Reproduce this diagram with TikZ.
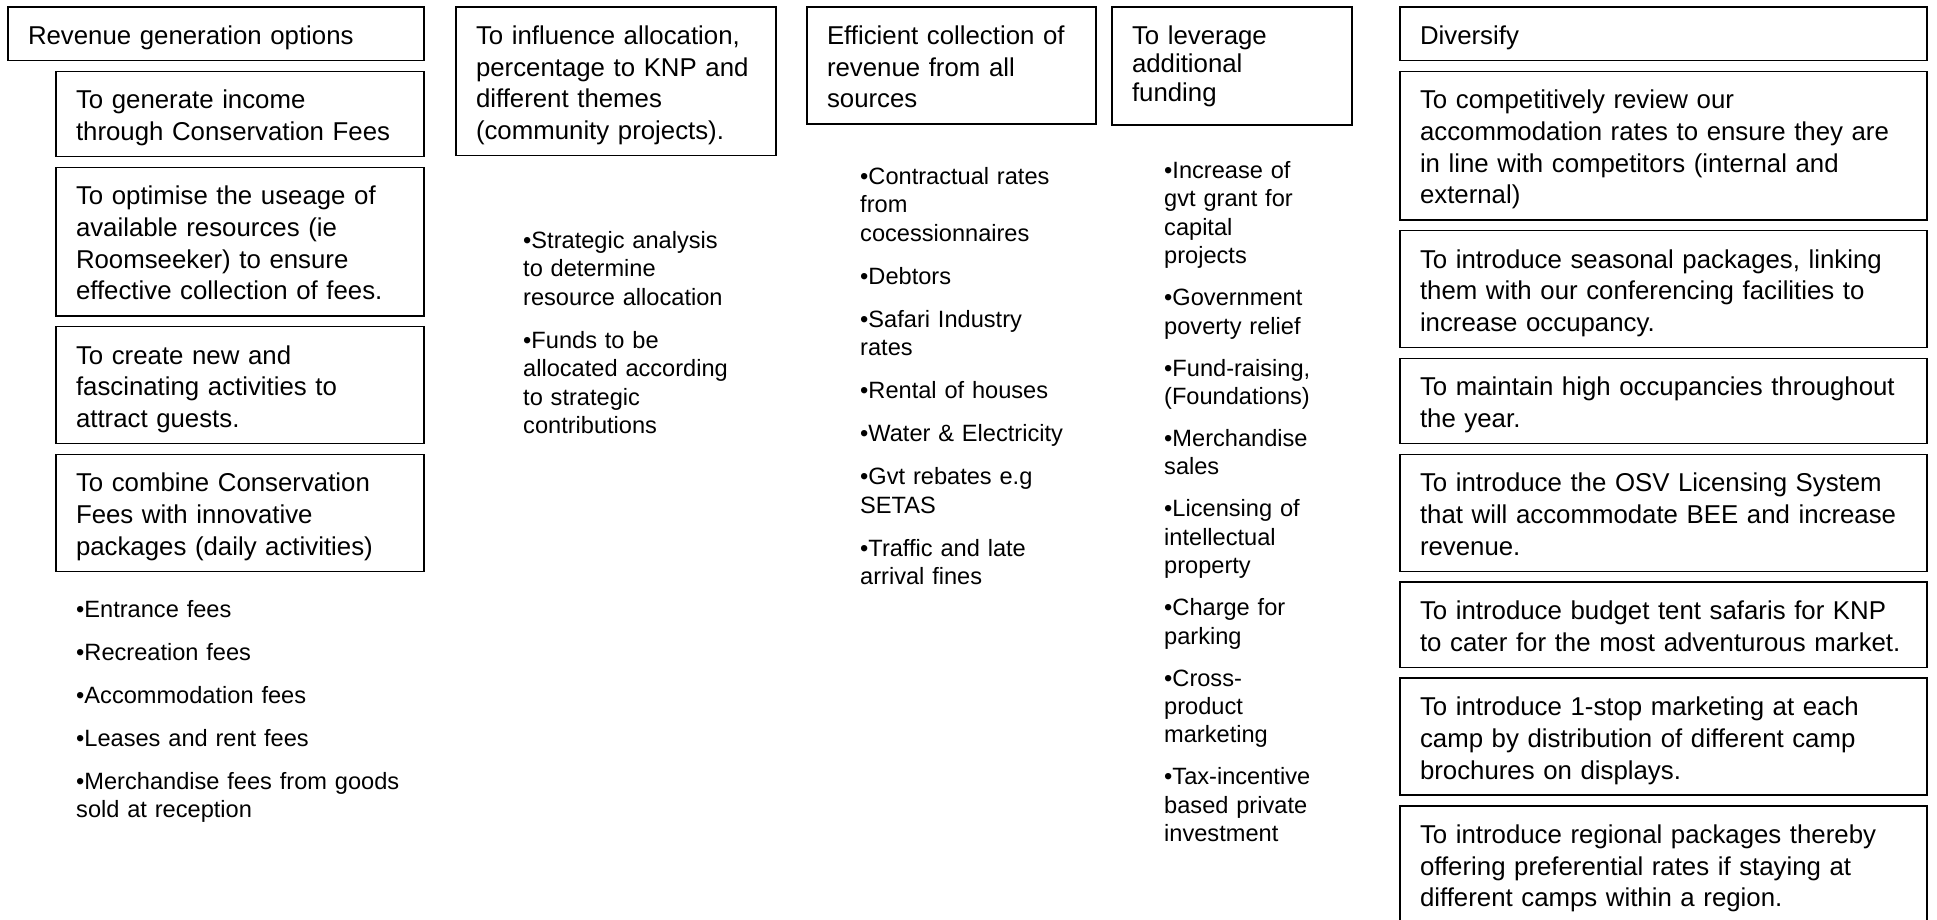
\documentclass[tikz,border=0pt]{standalone}
\usepackage{fontspec}
\setmainfont{Liberation Sans}
\usetikzlibrary{positioning}
\begin{document}
\begin{tikzpicture}[x=1pt,y=-1pt,node distance=10.8pt,
    goal node/.style={draw,line width=1.5pt,outer sep=0pt,anchor=north west,inner xsep=20pt,inner ysep=0pt,
        text width=#1,align=left,font=\fontsize{25.8}{31.7}\selectfont,
        execute at begin node={\rule{0pt}{37.5pt}},execute at end node={\rule[-16pt]{0pt}{16pt}}},
    item node/.style={anchor=base west,inner sep=0pt,text width=#1,align=left,font=\fontsize{23.6}{28.4}\selectfont}]
    \useasboundingbox (0,0) rectangle (1937,920);

    \node[goal node=376pt] (r0) at (8,7) {Revenue generation options};
    \node[goal node=328pt] (r1) [below=of r0.south east, anchor=north east] {To generate income\\through Conservation Fees};
    \node[goal node=328pt] (r2) [below=of r1] {To optimise the useage of\\available resources (ie\\Roomseeker) to ensure\\effective collection of fees.};
    \node[goal node=328pt] (r3) [below=of r2] {To create new and\\fascinating activities to\\attract guests.};
    \node[goal node=328pt] (r4) [below=of r3] {To combine Conservation\\Fees with innovative\\packages (daily activities)};
    \node[item node=360pt] (r5) at (76,617) {•Entrance fees\\[14.6pt]•Recreation fees\\[14.6pt]•Accommodation fees\\[14.6pt]•Leases and rent fees\\[14.6pt]•Merchandise fees from goods\\sold at reception};

    \node[goal node=280pt] (k0) at (456,7) {To influence allocation,\\percentage to KNP and\\different themes\\(community projects).};
    \node[item node=240pt] (k1) at (523,248.5) {•Strategic analysis\\to determine\\resource allocation\\[14.6pt]•Funds to be\\allocated according\\to strategic\\contributions};

    \node[goal node=249pt] (c0) at (807,7) {Efficient collection of\\revenue from all\\sources};
    \node[item node=240pt] (c1) at (860,184.5) {•Contractual rates\\from\\cocessionnaires\\[14.6pt]•Debtors\\[14.6pt]•Safari Industry\\rates\\[14.6pt]•Rental of houses\\[14.6pt]•Water \& Electricity\\[14.6pt]•Gvt rebates e.g\\SETAS\\[14.6pt]•Traffic and late\\arrival fines};

    \node[goal node=200pt,font=\fontsize{25.8}{28.5}\selectfont] (f0) at (1112,7) {To leverage\\additional\\funding\rule[-23.5pt]{0pt}{23.5pt}};
    \node[item node=200pt] (f1) at (1164,178.5) {•Increase of\\gvt grant for\\capital\\projects\\[13.6pt]•Government\\poverty relief\\[13.6pt]•Fund-raising,\\(Foundations)\\[13.6pt]•Merchandise\\sales\\[13.6pt]•Licensing of\\intellectual\\property\\[13.6pt]•Charge for\\parking\\[13.6pt]•Cross-\\product\\marketing\\[13.6pt]•Tax-incentive\\based private\\investment};

    \node[goal node=487pt] (d0) at (1400,7) {Diversify};
    \node[goal node=487pt] (d1) [below=of d0] {To competitively review our\\accommodation rates to ensure they are\\in line with competitors (internal and\\external)};
    \node[goal node=487pt] (d2) [below=of d1] {To introduce seasonal packages, linking\\them with our conferencing facilities to\\increase occupancy.};
    \node[goal node=487pt] (d3) [below=of d2] {To maintain high occupancies throughout\\the year.};
    \node[goal node=487pt] (d4) [below=of d3] {To introduce the OSV Licensing System\\that will accommodate BEE and increase\\revenue.};
    \node[goal node=487pt] (d5) [below=of d4] {To introduce budget tent safaris for KNP\\to cater for the most adventurous market.};
    \node[goal node=487pt] (d6) [below=of d5] {To introduce 1-stop marketing at each\\camp by distribution of different camp\\brochures on displays.};
    \node[goal node=487pt] (d7) [below=of d6] {To introduce regional packages thereby\\offering preferential rates if staying at\\different camps within a region.};
\end{tikzpicture}
\end{document}
